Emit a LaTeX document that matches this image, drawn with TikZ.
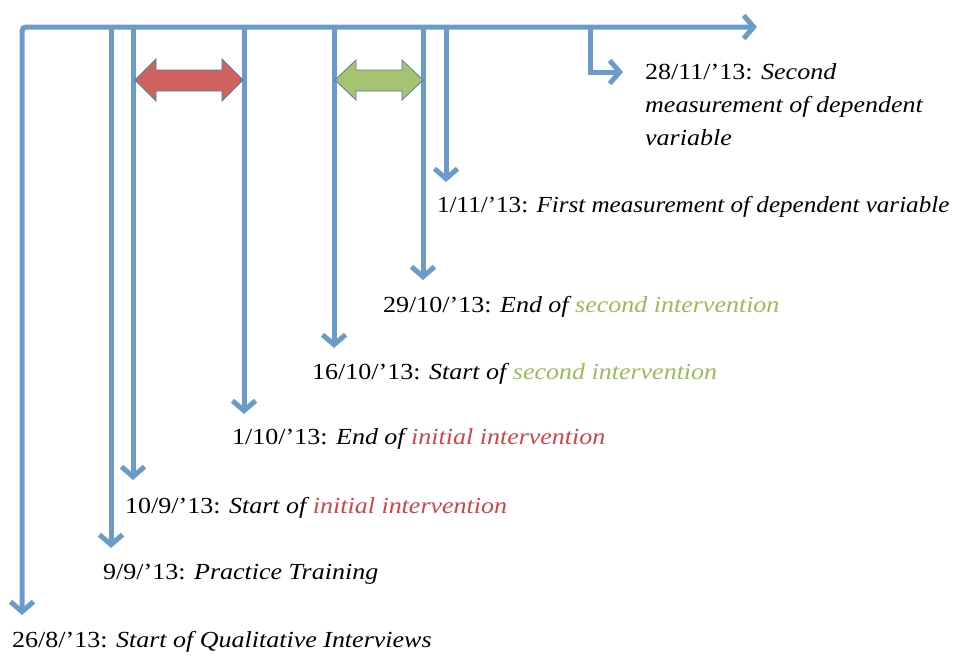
\documentclass[tikz,border=0pt]{standalone}
\usepackage{graphicx}
\usepackage{fontspec}
\setmainfont{Liberation Serif}[FakeStretch=1.13]
\usetikzlibrary{arrows.meta}
\definecolor{bl}{HTML}{6A9BCB}
\definecolor{rf}{HTML}{CF625E}
\definecolor{gf}{HTML}{A6C36F}
\definecolor{rt}{HTML}{D0454A}
\definecolor{gt}{HTML}{9BBB59}
\tikzset{
  barb/.tip={Straight Barb[length=10pt,width=23pt,line width=5pt]},
  tl/.style={draw=bl, line width=5pt, -barb},
  lbl/.style={anchor=west, inner sep=0pt, font=\fontsize{23}{33}\selectfont},
  dbl/.style={draw=bl!80!black, line width=0.8pt, line join=miter},
}
\newcommand{\dd}[1]{\textit{#1}}
\begin{document}
\begin{tikzpicture}[x=1pt,y=-1pt]
\useasboundingbox (0,0) rectangle (956,657);
% coordinates on the main line
\coordinate (c0) at (22,27);
\coordinate (c1) at (111,27);
\coordinate (c2) at (133,27);
\coordinate (c3) at (244,27);
\coordinate (c4) at (334,27);
\coordinate (c5) at (423,27);
\coordinate (c6) at (446,27);
\coordinate (c7) at (590,27);
\coordinate (mend) at (757,27);
% arrow ends
\coordinate (e0) at (22,615);
\coordinate (e1) at (111,548);
\coordinate (e2) at (133,480);
\coordinate (e3) at (244,414);
\coordinate (e4) at (334,348);
\coordinate (e5) at (423,280);
\coordinate (e6) at (446,182);
\coordinate (e7) at (623,72);
% main timeline
\draw[tl, barb-barb, rounded corners=4pt] (e0) -- (c0) -- (mend);
\draw[tl] (c1) -- (e1);
\draw[tl] (c2) -- (e2);
\draw[tl] (c3) -- (e3);
\draw[tl] (c4) -- (e4);
\draw[tl] (c5) -- (e5);
\draw[tl] (c6) -- (e6);
\draw[tl] (c7) |- (e7);
% double arrows
\draw[dbl, fill=rf] (135,80) -- (156,59) -- (156,70) -- (222,70) -- (222,59) -- (243,80) -- (222,101) -- (222,91) -- (156,91) -- (156,101) -- cycle;
\draw[dbl, fill=gf] (335,80) -- (356,60) -- (356,70) -- (402,70) -- (402,60) -- (423,80) -- (402,100) -- (402,91) -- (356,91) -- (356,100) -- cycle;
% labels
\node[lbl, anchor=north west, align=left] (l7) at (645,63) {28/11/’13: \dd{Second}\\\dd{measurement of dependent}\\\dd{variable}};
\node[lbl] (l6) at (437,207) {\scalebox{0.965}[1]{1/11/’13: \dd{First measurement of dependent variable}}};
\node[lbl] (l5) at (383,307) {29/10/’13: \dd{End of \textcolor{gt}{second intervention}}};
\node[lbl] (l4) at (312,374) {16/10/’13: \dd{Start of \textcolor{gt}{second intervention}}};
\node[lbl] (l3) at (232,439) {1/10/’13: \dd{End of \textcolor{rt}{initial intervention}}};
\node[lbl] (l2) at (125,508) {10/9/’13: \dd{Start of \textcolor{rt}{initial intervention}}};
\node[lbl] (l1) at (103,574) {9/9/’13: \dd{Practice Training}};
\node[lbl] (l0) at (12,642) {26/8/’13: \dd{Start of Qualitative Interviews}};
\end{tikzpicture}
\end{document}
